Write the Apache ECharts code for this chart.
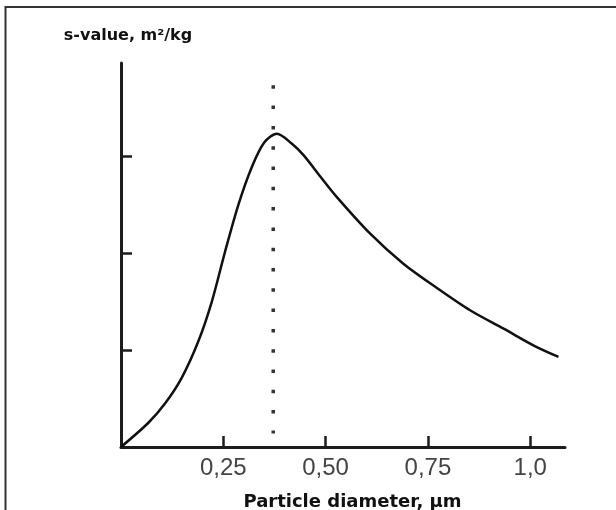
<!DOCTYPE html>
<html>
<head>
<meta charset="utf-8">
<script src="https://cdn.jsdelivr.net/npm/echarts@6/dist/echarts.min.js"></script>
<style>
  html, body { margin: 0; padding: 0; background: #fff; }
  #chart { width: 616px; height: 510px; }
</style>
</head>
<body>
<div id="chart"></div>
<script>
// particle diameter (µm) and s-value
const diameter = [0, 0.067, 0.108, 0.148, 0.189, 0.222, 0.254, 0.287, 0.320, 0.350, 0.381, 0.417, 0.446, 0.487, 0.527, 0.609, 0.690, 0.772, 0.853, 0.935, 1.016, 1.069];
const sValue = [0, 0.25, 0.45, 0.71, 1.09, 1.50, 2.01, 2.50, 2.89, 3.14, 3.23, 3.13, 3.01, 2.79, 2.58, 2.20, 1.89, 1.64, 1.41, 1.22, 1.03, 0.93];

// dotted marker of the peak position
const peakX = [0.372, 0.372];
const peakY = [3.73, 0.14];

const xTicks = [0.25, 0.5, 0.75, 1.0];
const xTickLabels = ["0,25", "0,50", "0,75", "1,0"];
const yTicks = [1, 2, 3];

const axisColor = "#1c1c1c";

var chart = echarts.init(document.getElementById("chart"));
chart.setOption({
  animation: false,
  backgroundColor: "#fff",
  grid: {
    left: 121,
    right: 51,
    top: 63,
    bottom: 63,
    containLabel: false,
    outerBoundsMode: "none"
  },
  xAxis: {
    type: "value",
    min: 0,
    max: 1.085,
    name: "Particle diameter, µm",
    nameLocation: "middle",
    nameGap: 46,
    nameTextStyle: {
      fontFamily: "DejaVu Sans",
      fontWeight: "bold",
      fontSize: 18,
      color: "#111",
      padding: [0, 0, 0, 19]
    },
    axisLine: { show: true, onZero: false, lineStyle: { color: axisColor, width: 3 } },
    axisTick: {
      show: true,
      inside: true,
      length: 11,
      customValues: xTicks,
      lineStyle: { color: axisColor, width: 2.5 }
    },
    axisLabel: {
      customValues: xTicks,
      margin: 9,
      fontFamily: "Liberation Sans",
      fontSize: 24,
      color: "#444",
      formatter: function (v) {
        var i = xTicks.indexOf(v);
        return i >= 0 ? xTickLabels[i] : "";
      }
    },
    splitLine: { show: false }
  },
  yAxis: {
    type: "value",
    min: 0,
    max: 3.96,
    name: "s-value, m²/kg",
    nameLocation: "end",
    nameGap: 19,
    nameTextStyle: {
      fontFamily: "DejaVu Sans",
      fontWeight: "bold",
      fontSize: 16,
      color: "#111",
      padding: [0, 0, 0, 14]
    },
    axisLine: { show: true, onZero: false, lineStyle: { color: axisColor, width: 3 } },
    axisTick: {
      show: true,
      inside: true,
      length: 11,
      customValues: yTicks,
      lineStyle: { color: axisColor, width: 2.5 }
    },
    axisLabel: { show: false },
    splitLine: { show: false }
  },
  graphic: [
    {
      type: "polyline",
      shape: { points: [[5.5, 510], [5.5, 7], [616, 7]] },
      style: { stroke: "#333", lineWidth: 2, fill: null }
    }
  ],
  series: [
    {
      name: "s-value",
      type: "line",
      data: diameter.map(function (d, i) { return [d, sValue[i]]; }),
      smooth: 0.3,
      showSymbol: false,
      lineStyle: { color: "#111", width: 2.5 }
    },
    {
      name: "peak",
      type: "line",
      data: peakX.map(function (d, i) { return [d, peakY[i]]; }),
      showSymbol: false,
      lineStyle: { color: "#333", width: 3.5, type: [3.5, 16.8], cap: "butt" }
    }
  ]
});
</script>
</body>
</html>
